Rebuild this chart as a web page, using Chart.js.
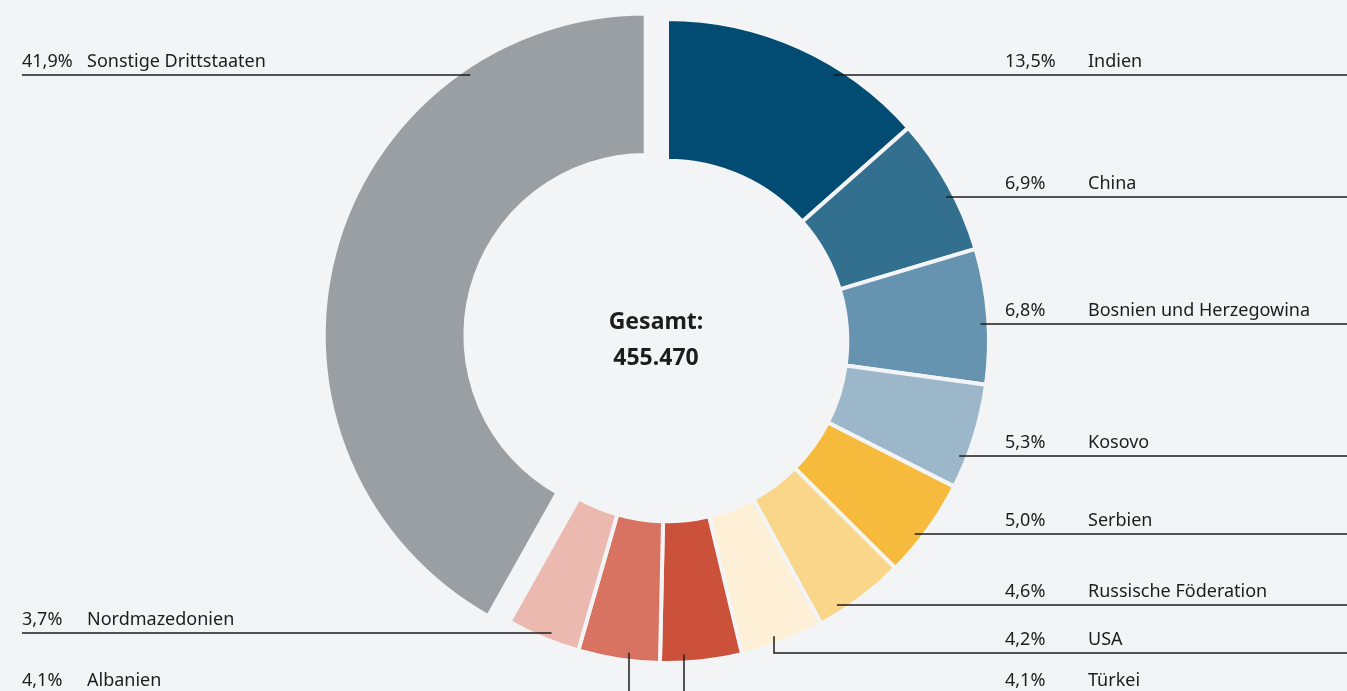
<!DOCTYPE html>
<html lang="de">
<head>
<meta charset="utf-8">
<title>Drittstaaten</title>
<script src="https://cdn.jsdelivr.net/npm/chart.js@4.4.1/dist/chart.umd.min.js"></script>
<style>
    html, body {
        margin: 0;
        padding: 0;
        background: #f3f4f6;
        overflow: hidden;
    }
    #wrap {
        position: relative;
        width: 1347px;
        height: 691px;
    }
</style>
</head>
<body>
<div id="wrap"><canvas id="donut" width="1347" height="691"></canvas></div>
<script>
// Daten
const countries = [
    "Indien",
    "China",
    "Bosnien und Herzegowina",
    "Kosovo",
    "Serbien",
    "Russische Föderation",
    "USA",
    "Türkei",
    "Albanien",
    "Nordmazedonien",
    "Sonstige Drittstaaten",
];
const shares = [13.5, 6.9, 6.8, 5.3, 5.0, 4.6, 4.2, 4.1, 4.1, 3.7, 41.9];
const total = 455470;

const colors = [
    "#024b72", "#336f8f", "#6593b0", "#9bb7c9", "#f6bb3d", "#f9d68a",
    "#fdf0d7", "#cb513a", "#d87261", "#ebb9b0", "#999fa2",
];

// Beschriftung: Seite, Hoehe der Linie, bei senkrechten Linien die x-Position
const labelLayout = [
    { side: "right", lineY: 75 },
    { side: "right", lineY: 197 },
    { side: "right", lineY: 324 },
    { side: "right", lineY: 456 },
    { side: "right", lineY: 534 },
    { side: "right", lineY: 605 },
    { side: "right", lineY: 653, dropX: 774 },
    { side: "right", lineY: 694, dropX: 684 },
    { side: "left", lineY: 694, dropX: 629 },
    { side: "left", lineY: 633 },
    { side: "left", lineY: 75 },
];

const bg = "#f3f4f6";
const ink = "#1d1d1b";
const font = "'Noto Sans', 'Open Sans', sans-serif";
const explodeIndex = 10; // Sonstige wird herausgezogen
const explodeBy = 22;

function fmtPct(v) {
    return v.toFixed(1).replace(".", ",") + "%";
}
function fmtTotal(v) {
    return v.toString().replace(/\B(?=(\d{3})+(?!\d))/g, ".");
}

// Segment "Sonstige" entlang der Mittelachse verschieben
const explodePlugin = {
    id: "explode",
    afterDatasetUpdate(chart, args) {
        const arc = args.meta.data[explodeIndex];
        if (!arc) return;
        const mid = (arc.startAngle + arc.endAngle) / 2;
        arc.x += Math.cos(mid) * explodeBy;
        arc.y += Math.sin(mid) * explodeBy;
    },
};

const labelPlugin = {
    id: "leaderLabels",
    afterDraw(chart) {
        const ctx = chart.ctx;
        const meta = chart.getDatasetMeta(0);
        const W = chart.width;
        ctx.save();
        ctx.strokeStyle = ink;
        ctx.lineWidth = 1.5;
        ctx.fillStyle = ink;
        ctx.font = "18px " + font;
        ctx.textBaseline = "alphabetic";

        labelLayout.forEach((lay, i) => {
            const arc = meta.data[i];
            const r = arc.outerRadius - 8;
            ctx.beginPath();
            if (lay.dropX !== undefined) {
                const dx = lay.dropX - arc.x;
                const y0 = arc.y + Math.sqrt(r * r - dx * dx);
                ctx.moveTo(lay.dropX, y0);
                ctx.lineTo(lay.dropX, lay.lineY);
                ctx.lineTo(lay.side === "right" ? W : 22, lay.lineY);
            } else {
                const dy = lay.lineY - arc.y;
                const half = Math.sqrt(Math.max(r * r - dy * dy, 0));
                if (lay.side === "right") {
                    ctx.moveTo(arc.x + half, lay.lineY);
                    ctx.lineTo(W, lay.lineY);
                } else {
                    ctx.moveTo(22, lay.lineY);
                    ctx.lineTo(arc.x - half, lay.lineY);
                }
            }
            ctx.stroke();

            const ty = lay.lineY - 8;
            if (lay.side === "right") {
                ctx.fillText(fmtPct(shares[i]), 1005, ty);
                ctx.fillText(countries[i], 1088, ty);
            } else {
                ctx.fillText(fmtPct(shares[i]), 22, ty);
                ctx.fillText(countries[i], 87, ty);
            }
        });

        // Mitte
        ctx.font = "bold 23px " + font;
        ctx.textAlign = "center";
        ctx.fillText("Gesamt:", 656, 329);
        ctx.fillText(fmtTotal(total), 656, 365);
        ctx.restore();
    },
};

const donut = new Chart(document.getElementById("donut"), {
    type: "doughnut",
    data: {
        labels: countries,
        datasets: [
            {
                data: shares,
                backgroundColor: colors,
                borderColor: bg,
                borderWidth: 4,
            },
        ],
    },
    options: {
        responsive: false,
        animation: false,
        events: [],
        radius: 322,
        cutout: "56%",
        layout: {
            padding: { left: 0, right: 13, top: 0, bottom: 9 },
        },
        plugins: {
            legend: { display: false },
            tooltip: { enabled: false },
        },
    },
    plugins: [explodePlugin, labelPlugin],
});
</script>
</body>
</html>
